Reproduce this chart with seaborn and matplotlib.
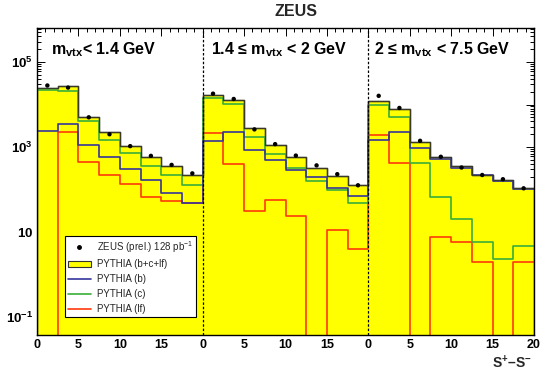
import numpy as np
import pandas as pd
import matplotlib
matplotlib.use("Agg")
import matplotlib.pyplot as plt
from matplotlib.ticker import MultipleLocator, NullFormatter, LogLocator
from matplotlib.lines import Line2D
from matplotlib.patches import Patch
import matplotlib.transforms as mtransforms
import seaborn as sns

# ---------------- data ----------------
bin_centres = [1.25, 3.75, 6.25, 8.75, 11.25, 13.75, 16.25, 18.75]
panel_offsets = [0, 20, 40]
panel_labels = ["m$_{\\mathbf{vtx}}$< 1.4 GeV",
                "1.4 \u2264 m$_{\\mathbf{vtx}}$ < 2 GeV",
                "2 \u2264 m$_{\\mathbf{vtx}}$ < 7.5 GeV"]

data_p1 = [2.8e4, 2.5e4, 5.0e3, 2.0e3, 1.05e3, 620, 380, 240]
data_p2 = [1.8e4, 1.35e4, 2.6e3, 1.17e3, 630, 370, 230, 126]
data_p3 = [1.6e4, 8.3e3, 1.4e3, 590, 330, 220, 175, 107]

total_p1 = [2.4e4, 2.7e4, 5.2e3, 2.3e3, 1.05e3, 570, 350, 220]
total_p2 = [1.67e4, 1.3e4, 2.75e3, 1.1e3, 590, 330, 210, 128]
total_p3 = [1.2e4, 7.7e3, 1.3e3, 580, 350, 225, 165, 110]

b_p1 = [2.4e3, 3.5e3, 1.1e3, 570, 300, 167, 81, 49]
b_p2 = [1.4e3, 2.2e3, 850, 490, 290, 194, 107, 71]
b_p3 = [1.5e3, 2.3e3, 930, 520, 330, 215, 160, 105]

c_p1 = [2.15e4, 2.1e4, 4.0e3, 1.5e3, 740, 355, 220, 128]
c_p2 = [1.4e4, 1.03e4, 1.75e3, 690, 330, 162, 98, 49]
c_p3 = [9.7e3, 5.0e3, 420, 66, 20, 5.9, 2.3, 4.6]

lf_p1 = [0, 2.3e3, 450, 220, 134, 68, 55, 48]
lf_p2 = [2.1e3, 400, 32, 56, 24, 0, 11.5, 3.9]
lf_p3 = [1.9e3, 430, 0, 7.8, 5.9, 2.0, 0, 2.0]

x_tick_labels = ["0", "5", "10", "15", "0", "5", "10", "15", "0", "5", "10", "15", "20"]
y_tick_labels = {0.1: "$\\mathbf{10^{-1}}$", 1: "", 10: "$\\mathbf{10}$", 100: "",
                 1e3: "$\\mathbf{10^{3}}$", 1e4: "", 1e5: "$\\mathbf{10^{5}}$"}

# ---------------- build tables ----------------
x_all = np.concatenate([np.array(bin_centres) + o for o in panel_offsets])
edges = [float(e) for e in np.arange(0, 60.001, 2.5)]
data_all = np.concatenate([data_p1, data_p2, data_p3])
total_all = np.concatenate([total_p1, total_p2, total_p3])
comp = {"b": np.concatenate([b_p1, b_p2, b_p3]),
        "c": np.concatenate([c_p1, c_p2, c_p3]),
        "lf": np.concatenate([lf_p1, lf_p2, lf_p3])}
df_tot = pd.DataFrame({"x": x_all, "w": total_all})
df_lines = pd.concat([pd.DataFrame({"x": x_all, "w": v, "comp": k}) for k, v in comp.items()],
                     ignore_index=True)
df_data = pd.DataFrame({"x": x_all, "y": data_all})

# ---------------- style ----------------
sns.set_theme(style="ticks")
plt.rcParams["font.family"] = ["Liberation Sans", "DejaVu Sans"]
plt.rcParams["mathtext.fontset"] = "custom"
plt.rcParams["mathtext.rm"] = "Liberation Sans"
plt.rcParams["mathtext.bf"] = "Liberation Sans:bold"
plt.rcParams["mathtext.it"] = "Liberation Sans:italic"

col_b, col_c, col_lf = "#35359a", "#3aae3a", "#ff3a0a"
palette = {"b": col_b, "c": col_c, "lf": col_lf}

fig = plt.figure(figsize=(5.4, 3.76), dpi=100)
fig.patch.set_facecolor("white")
ax = fig.add_axes([37 / 540, 1 - 335 / 376, 497 / 540, 307 / 376])
ax.set_facecolor("white")

sns.histplot(data=df_tot, x="x", weights="w", bins=edges, element="step", fill=True,
             color="#ffff00", alpha=1, edgecolor="#333333", linewidth=1.0, ax=ax, zorder=1)
sns.histplot(data=df_lines, x="x", weights="w", hue="comp", palette=palette, bins=edges,
             element="step", fill=False, linewidth=1.2, legend=False, ax=ax, zorder=2)
# redraw total outline on top of the lines
sns.histplot(data=df_tot, x="x", weights="w", bins=edges, element="step", fill=False,
             color="#3a3a2a", linewidth=0.9, ax=ax, zorder=3)
sns.scatterplot(data=df_data, x="x", y="y", color="black", s=10, marker="o",
                edgecolor="none", ax=ax, zorder=6)

ax.set_yscale("log")
ax.set_xlim(0, 60)
ax.set_ylim(0.038, 6.3e5)

for xv in [20, 40]:
    ax.axvline(xv, color="black", lw=0.9, ls=(0, (2, 1.5)), zorder=5)

# ticks
ax.set_xticks(np.arange(0, 60.1, 5), x_tick_labels, fontweight="bold", fontsize=9)
ax.xaxis.set_minor_locator(MultipleLocator(1))
ytk = list(y_tick_labels.keys())
ax.set_yticks(ytk, [y_tick_labels[k] for k in ytk], fontsize=9.5)
ax.yaxis.set_minor_locator(LogLocator(base=10, subs=np.arange(2, 10), numticks=30))
ax.yaxis.set_minor_formatter(NullFormatter())
ax.tick_params(which="both", direction="in", top=True, right=True, colors="black",
               labelcolor="black", width=0.7)
ax.tick_params(which="major", length=6, pad=3)
ax.tick_params(which="minor", length=3)
ax.set_xlabel("")
ax.set_ylabel("")
for s in ax.spines.values():
    s.set_color("black")
    s.set_linewidth(1.0)
    s.set_zorder(7)

# panel labels
trans = mtransforms.blended_transform_factory(ax.transData, ax.transAxes)
for xpos, lab in zip([1.69, 21.0, 40.7], panel_labels):
    ax.text(xpos, 0.928, lab, transform=trans, ha="left", va="center",
            fontsize=11.5, fontweight="bold", color="black", zorder=8)

fig.text(296 / 540, 1 - 12 / 376, "ZEUS", ha="center", va="center",
         fontsize=11.5, fontweight="bold")
fig.text(512 / 540, 1 - 363 / 376, "S$^{\\mathbf{+}}$\u2013S$^{\\mathbf{-}}$", ha="center",
         va="center", fontsize=10, fontweight="bold")

# legend
handles = [Line2D([], [], marker="o", color="black", ls="none", markersize=2.5),
           Patch(facecolor="#ffff00", edgecolor="#333333", linewidth=0.8),
           Line2D([], [], color=col_b, lw=1.2),
           Line2D([], [], color=col_c, lw=1.2),
           Line2D([], [], color=col_lf, lw=1.2)]
labels = ["ZEUS (prel.) 128 pb$^{-1}$", "PYTHIA (b+c+lf)", "PYTHIA (b)",
          "PYTHIA (c)", "PYTHIA (lf)"]
leg = ax.legend(handles, labels, loc="lower left", bbox_to_anchor=(0.056, 0.059),
                borderaxespad=0, fontsize=7.0, frameon=True, fancybox=False,
                labelspacing=0.5, handlelength=2.4, handletextpad=0.6,
                borderpad=0.3)
leg.get_frame().set_edgecolor("black")
leg.get_frame().set_linewidth(0.8)
leg.get_frame().set_facecolor("white")
leg.get_frame().set_alpha(1)
leg.set_zorder(9)

fig.savefig("out.png", dpi=100)
